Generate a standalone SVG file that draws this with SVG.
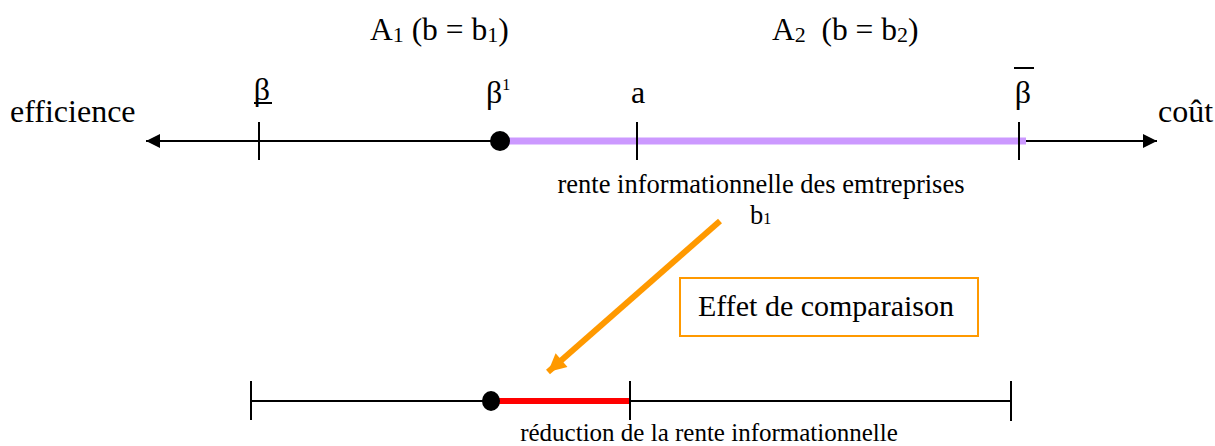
<svg xmlns="http://www.w3.org/2000/svg" width="1215" height="446" viewBox="0 0 1215 446">
<defs>
<style>
text{font-family:"Liberation Serif","Times New Roman",serif;fill:#000;}
.lbl{font-size:26.5px;}
.big{font-size:32px;}
.hd{font-size:30px;}
.ttl{font-size:31.5px;}
.sub{font-size:22px;}
.axis{stroke:#000;stroke-width:2;fill:none;}
.tick{stroke:#000;stroke-width:2;}
</style>
<marker id="ahBlk" viewBox="0 0 10 10" refX="10" refY="5" markerWidth="18" markerHeight="14" markerUnits="userSpaceOnUse" orient="auto"><path d="M0,0 L10,5 L0,10 Z" fill="#000"/></marker>
<marker id="ahOr" viewBox="0 0 10 10" refX="10" refY="5" markerWidth="22" markerHeight="18" markerUnits="userSpaceOnUse" orient="auto"><path d="M0,0 L10,5 L0,10 Z" fill="#ff9900"/></marker>
</defs>

<g id="connectors">
<line class="axis" x1="500" y1="141" x2="146" y2="141" marker-end="url(#ahBlk)"/>
<line class="axis" x1="1020" y1="141" x2="1157" y2="141" marker-end="url(#ahBlk)"/>
<line x1="500" y1="141" x2="1026" y2="141" stroke="#cc99ff" stroke-width="7"/>
<line class="axis" x1="251" y1="401" x2="1011" y2="401"/>
<line x1="491" y1="401" x2="630" y2="401" stroke="#ff0000" stroke-width="6"/>
<line x1="720" y1="221" x2="548" y2="372" stroke="#ff9900" stroke-width="6" marker-end="url(#ahOr)"/>
</g>

<g id="tick-beta-low">
<line class="tick" x1="259" y1="122" x2="259" y2="160"/>
<text class="big" x="262" y="100" text-anchor="middle">β</text>
<line x1="254" y1="103" x2="272" y2="103" stroke="#000" stroke-width="2"/>
</g>
<g id="point-beta1">
<circle cx="500" cy="141" r="10" fill="#000"/>
<text class="big" x="486" y="103">β<tspan font-size="16" dy="-13">1</tspan></text>
</g>
<g id="tick-a">
<line class="tick" x1="637" y1="122" x2="637" y2="160"/>
<text class="big" x="638" y="103" text-anchor="middle">a</text>
</g>
<g id="tick-beta-high">
<line class="tick" x1="1019" y1="122" x2="1019" y2="160"/>
<text class="big" x="1023" y="103" text-anchor="middle">β</text>
<line x1="1014" y1="68" x2="1034" y2="68" stroke="#000" stroke-width="2"/>
</g>

<g id="label-efficience"><text class="big" x="10" y="122">efficience</text></g>
<g id="label-cout"><text class="big" x="1158" y="122">coût</text></g>

<g id="label-A1"><text class="ttl" x="370" y="40">A<tspan class="sub" dy="2">1</tspan><tspan dy="-2"> (b = b</tspan><tspan class="sub" dy="2">1</tspan><tspan dy="-2">)</tspan></text></g>
<g id="label-A2"><text class="ttl" x="772" y="40" xml:space="preserve">A<tspan class="sub" dy="2">2</tspan><tspan dy="-2">  (b = b</tspan><tspan class="sub" dy="2">2</tspan><tspan dy="-2">)</tspan></text></g>

<g id="label-rente">
<text class="lbl" x="761" y="193" text-anchor="middle">rente informationnelle des emtreprises</text>
<text class="lbl" x="750" y="224">b<tspan font-size="16">1</tspan></text>
</g>

<g id="box-effet">
<rect x="680" y="278" width="298" height="58" fill="#fff" stroke="#ff9900" stroke-width="2"/>
<text class="hd" x="826" y="316" text-anchor="middle">Effet de comparaison</text>
</g>

<g id="bottom-axis">
<line class="tick" x1="251" y1="381" x2="251" y2="420"/>
<line class="tick" x1="630" y1="381" x2="630" y2="420"/>
<line class="tick" x1="1011" y1="381" x2="1011" y2="421"/>
<ellipse cx="491" cy="401" rx="9" ry="10" fill="#000"/>
</g>

<g id="label-reduction"><text x="709" y="441" text-anchor="middle" font-size="25">réduction de la rente informationnelle</text></g>
</svg>
